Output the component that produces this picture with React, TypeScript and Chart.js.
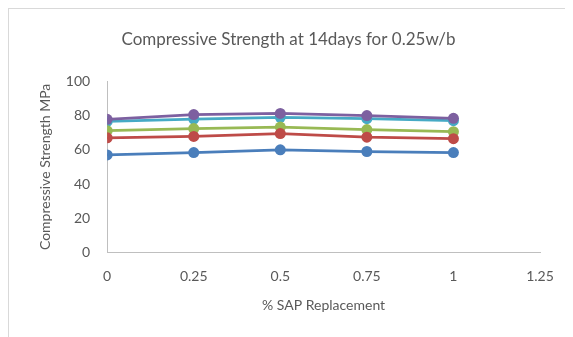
import React, { useEffect, useRef } from "react";
import { Chart, registerables } from "chart.js";

Chart.register(...registerables);

const xValues = [0, 0.25, 0.5, 0.75, 1];
const series1 = [57, 58.4, 60, 59, 58.4];
const series2 = [67, 67.8, 69.5, 67.4, 66.5];
const series3 = [71.2, 72.4, 73.3, 71.8, 70.6];
const series4 = [77.8, 80.6, 81.3, 80, 78.4];
const series5 = [76.6, 78, 79, 78.2, 77];
const seriesColors = ["#4A7EBB", "#BE4B48", "#98B954", "#7D60A0", "#46AAC5"];
const titleText = "Compressive Strength at 14days for 0.25w/b";
const xTitle = "% SAP Replacement";
const yTitle = "Compressive Strength MPa";

const FONT = "Lato, 'Open Sans', sans-serif";
const GREY = "#595959";

export default function App() {
  const ref = useRef<HTMLCanvasElement | null>(null);
  useEffect(() => {
    if (!ref.current) return;
    const all = [series1, series2, series3, series4, series5];
    const chart = new Chart(ref.current, {
      type: "scatter",
      data: {
        datasets: all.map((s, i) => ({
          label: "S" + (i + 1),
          data: s.map((y, j) => ({ x: xValues[j], y })),
          showLine: true,
          borderColor: seriesColors[i],
          backgroundColor: seriesColors[i],
          borderWidth: 2.75,
          pointRadius: 5.5,
          pointBorderWidth: 0,
        })),
      },
      options: {
        animation: false,
        responsive: false,
        layout: { padding: { left: 28, right: 33, top: 0, bottom: 23 } },
        plugins: {
          legend: { display: false },
          tooltip: { enabled: false },
          title: {
            display: true,
            text: titleText,
            color: GREY,
            font: { family: FONT, size: 17, weight: "normal" },
            padding: { top: 20, bottom: 32 },
          },
        },
        scales: {
          x: {
            type: "linear",
            min: 0,
            max: 1.25,
            ticks: {
              stepSize: 0.25,
              color: GREY,
              font: { family: FONT, size: 14 },
              padding: 16,
              callback: (v: any) => String(Math.round(Number(v) * 100) / 100),
            },
            grid: { display: false, drawTicks: false },
            border: { color: "#BFBFBF", width: 1 },
            title: {
              display: true,
              text: xTitle,
              color: GREY,
              font: { family: FONT, size: 14 },
              padding: { top: -4, bottom: 0 },
            },
          },
          y: {
            min: 0,
            max: 100,
            ticks: {
              stepSize: 20,
              color: GREY,
              font: { family: FONT, size: 14 },
              padding: 17,
            },
            grid: { display: false, drawTicks: false },
            border: { color: "#BFBFBF", width: 1 },
            title: {
              display: true,
              text: yTitle,
              color: GREY,
              font: { family: FONT, size: 14 },
              padding: { top: 0, bottom: -5 },
            },
          },
        },
      },
    });
    return () => chart.destroy();
  }, []);
  return (
    <div
      style={{
        width: 565,
        height: 329,
        boxSizing: "border-box",
        borderLeft: "1px solid #D9D9D9",
        borderTop: "1px solid #D9D9D9",
        background: "#fff",
        overflow: "hidden",
      }}
    >
      <canvas ref={ref} width={564} height={328} style={{ display: "block" }} />
    </div>
  );
}
